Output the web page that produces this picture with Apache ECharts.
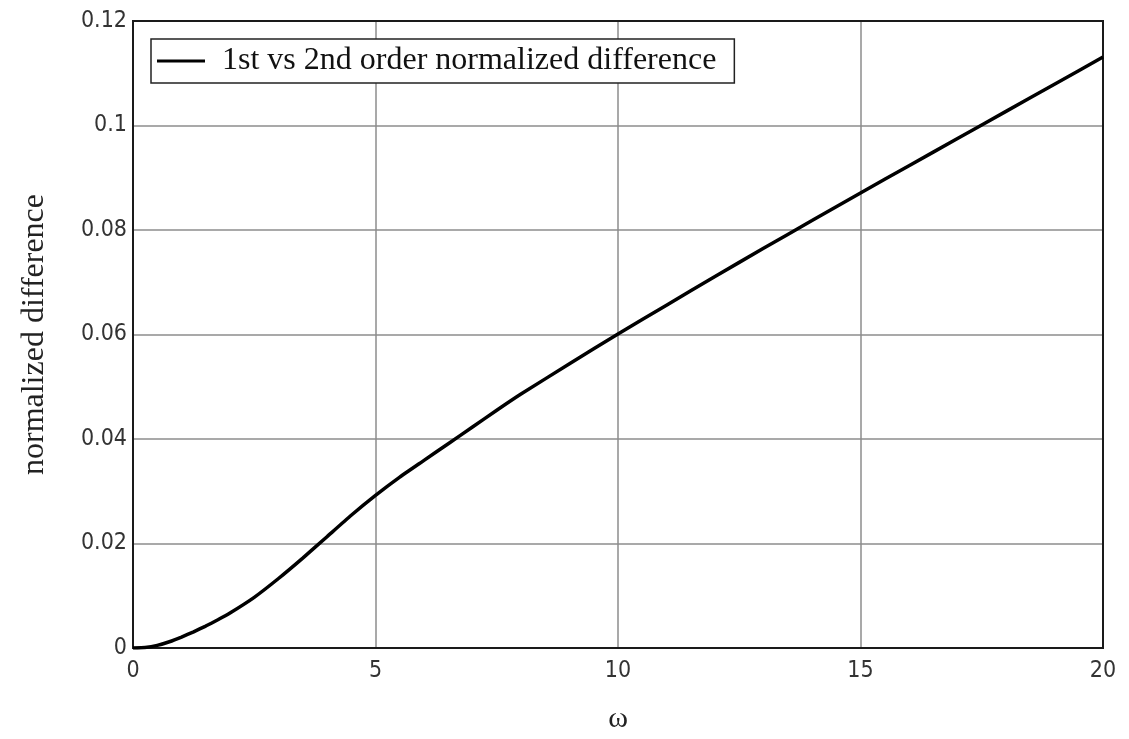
<!DOCTYPE html>
<html>
<head>
<meta charset="utf-8">
<script src="https://cdn.jsdelivr.net/npm/echarts@6/dist/echarts.min.js"></script>
<style>
html,body{margin:0;padding:0;background:#fff;}
#chart{width:1129px;height:739px;}
</style>
</head>
<body>
<div id="chart"></div>
<script>
const omega = [0, 0.25, 0.5, 0.75, 1, 1.25, 1.5, 1.75, 2, 2.5, 3, 3.5, 4, 4.5, 5, 5.5, 6, 6.5, 7, 7.5, 8, 9, 10, 11, 12, 13, 14, 15, 16, 17, 18, 19, 20];
const normDiff = [0, 0.0001, 0.0005, 0.0012, 0.0021, 0.0031, 0.0042, 0.0054, 0.0067, 0.0097, 0.0133, 0.0172, 0.0213, 0.0254, 0.0292, 0.0327, 0.0359, 0.0391, 0.0423, 0.0455, 0.0486, 0.0544, 0.0601, 0.0656, 0.0711, 0.0765, 0.0818, 0.0871, 0.0923, 0.0975, 0.1027, 0.1079, 0.1131];
const seriesName = '1st vs 2nd order normalized difference';
const xTitle = 'ω';
const yTitle = 'normalized difference';

const tickFont = '"DejaVu Sans Condensed", "Liberation Sans Narrow", "DejaVu Sans", sans-serif';
const serif = '"Liberation Serif", "DejaVu Serif", serif';

const chart = echarts.init(document.getElementById('chart'), null, {renderer: 'canvas'});
chart.setOption({
  animation: false,
  backgroundColor: '#fff',
  grid: {left: 133, top: 21, right: 26, bottom: 89, show: true, borderColor: '#1a1a1a', borderWidth: 2, backgroundColor: 'transparent', z: 3},
  legend: {
    left: 151, top: 39,
    data: [seriesName],
    icon: 'rect', itemWidth: 48, itemHeight: 3, itemGap: 20,
    padding: [6, 18, 6, 6],
    borderColor: '#222', borderWidth: 1.5, backgroundColor: '#fff',
    textStyle: {fontFamily: serif, fontSize: 32, color: '#111', padding: [2, 0, 0, 12]}
  },
  xAxis: {
    type: 'value', min: 0, max: 20, interval: 5,
    name: xTitle, nameLocation: 'middle', nameGap: 56,
    nameTextStyle: {fontFamily: serif, fontSize: 30, color: '#222'},
    axisLine: {show: false}, axisTick: {show: false},
    axisLabel: {fontFamily: tickFont, fontSize: 23, color: '#333', margin: 12},
    splitLine: {show: true, lineStyle: {color: '#8c8c8c', width: 1.5}}
  },
  yAxis: {
    type: 'value', min: 0, max: 0.12, interval: 0.02,
    name: yTitle, nameLocation: 'middle', nameGap: 82,
    nameTextStyle: {fontFamily: serif, fontSize: 32, color: '#222'},
    axisLine: {show: false}, axisTick: {show: false},
    axisLabel: {fontFamily: tickFont, fontSize: 23, color: '#333', margin: 6,
      formatter: v => (Math.round(v * 100) / 100).toString()},
    splitLine: {show: true, lineStyle: {color: '#8c8c8c', width: 1.5}}
  },
  series: [{
    name: seriesName, type: 'line',
    data: omega.map((x, i) => [x, normDiff[i]]),
    showSymbol: false, symbol: 'none',
    smooth: 0.15,
    lineStyle: {color: '#000', width: 3.5},
    itemStyle: {color: '#000'},
    z: 4
  }]
});
</script>
</body>
</html>
